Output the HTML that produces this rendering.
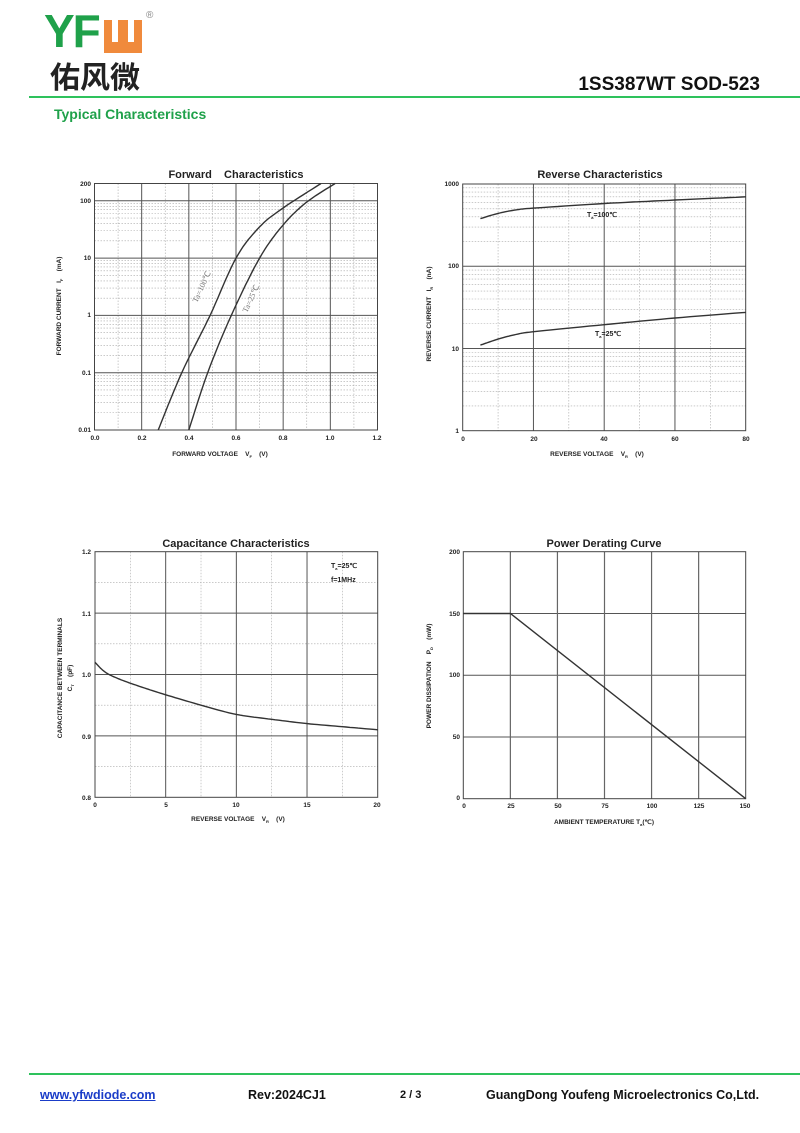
<!DOCTYPE html>
<html><head><meta charset="utf-8"><style>
html,body{margin:0;padding:0;background:#fff;width:800px;height:1133px;overflow:hidden;position:relative;font-family:"Liberation Sans",Arial,sans-serif}
.a{position:absolute;white-space:nowrap}
svg text{white-space:pre}
</style></head><body>
<div class="a" style="left:44px;top:8px;font-size:46px;font-weight:bold;color:#1fa14a;letter-spacing:-2px;line-height:46px">YF</div>
<div class="a" style="left:104px;top:20px;width:38px;height:33px;background:#f08a3c"></div>
<div class="a" style="left:112px;top:20px;width:6px;height:22px;background:#fff"></div>
<div class="a" style="left:128px;top:20px;width:6px;height:22px;background:#fff"></div>
<div class="a" style="left:146px;top:10px;font-size:10px;color:#888">®</div>
<div class="a" style="left:50px;top:58px;font-size:30px;font-weight:bold;color:#222;font-family:'Noto Sans CJK SC',sans-serif;line-height:34px">佑风微</div>
<div class="a" style="right:40px;top:74px;font-size:19px;font-weight:bold;color:#111">1SS387WT SOD-523</div>
<div class="a" style="left:29px;top:96px;width:771px;height:2px;background:#2ec25c"></div>
<div class="a" style="left:54px;top:106px;font-size:14px;font-weight:bold;color:#1fa14a">Typical Characteristics</div>
<div class="a" style="left:29px;top:1073px;width:771px;height:2px;background:#2ec25c"></div>
<div class="a" style="left:40px;top:1088px;font-size:12.5px;font-weight:bold;color:#1a3cc8;text-decoration:underline">www.yfwdiode.com</div>
<div class="a" style="left:248px;top:1088px;font-size:12.5px;font-weight:bold;color:#111">Rev:2024CJ1</div>
<div class="a" style="left:400px;top:1089px;font-size:11px;font-weight:bold;color:#111">2 / 3</div>
<div class="a" style="left:486px;top:1088px;font-size:12.5px;font-weight:bold;color:#111">GuangDong Youfeng Microelectronics Co,Ltd.</div>
<svg id="s" class="a" style="left:0;top:0" width="800" height="1133" font-family="Liberation Sans,Arial,sans-serif" font-weight="bold" fill="#222">
<g id="g"></g>
<g font-size="11" text-anchor="middle">
<text x="236" y="178">Forward    Characteristics</text>
<text x="600" y="178">Reverse Characteristics</text>
<text x="236" y="547">Capacitance Characteristics</text>
<text x="604" y="547">Power Derating Curve</text>
</g>
<g font-size="6.5" text-anchor="end">
<text x="91" y="186">200</text><text x="91" y="203">100</text><text x="91" y="260">10</text><text x="91" y="317">1</text><text x="91" y="375">0.1</text><text x="91" y="432">0.01</text>
<text x="459" y="186">1000</text><text x="459" y="268">100</text><text x="459" y="351">10</text><text x="459" y="433">1</text>
<text x="91" y="554">1.2</text><text x="91" y="616">1.1</text><text x="91" y="677">1.0</text><text x="91" y="739">0.9</text><text x="91" y="800">0.8</text>
<text x="460" y="554">200</text><text x="460" y="616">150</text><text x="460" y="677">100</text><text x="460" y="739">50</text><text x="460" y="800">0</text>
</g>
<g font-size="6.5" text-anchor="middle">
<text x="95" y="440">0.0</text><text x="142" y="440">0.2</text><text x="189" y="440">0.4</text><text x="236" y="440">0.6</text><text x="283" y="440">0.8</text><text x="330" y="440">1.0</text><text x="377" y="440">1.2</text>
<text x="463" y="441">0</text><text x="534" y="441">20</text><text x="604" y="441">40</text><text x="675" y="441">60</text><text x="746" y="441">80</text>
<text x="95" y="807">0</text><text x="166" y="807">5</text><text x="236" y="807">10</text><text x="307" y="807">15</text><text x="377" y="807">20</text>
<text x="464" y="808">0</text><text x="511" y="808">25</text><text x="558" y="808">50</text><text x="605" y="808">75</text><text x="652" y="808">100</text><text x="699" y="808">125</text><text x="745" y="808">150</text>
<text x="220" y="456">FORWARD VOLTAGE    V<tspan font-size="4" dy="2">F</tspan><tspan dy="-2">    (V)</tspan></text>
<text x="597" y="456">REVERSE VOLTAGE    V<tspan font-size="4" dy="2">R</tspan><tspan dy="-2">    (V)</tspan></text>
<text x="238" y="821">REVERSE VOLTAGE    V<tspan font-size="4" dy="2">R</tspan><tspan dy="-2">    (V)</tspan></text>
<text x="604" y="824">AMBIENT TEMPERATURE T<tspan font-size="4" dy="2">a</tspan><tspan dy="-2">(℃)</tspan></text>
<text transform="translate(61,306) rotate(-90)">FORWARD CURRENT   I<tspan font-size="4" dy="2">F</tspan><tspan dy="-2">    (mA)</tspan></text>
<text transform="translate(431,314) rotate(-90)">REVERSE CURRENT   I<tspan font-size="4" dy="2">R</tspan><tspan dy="-2">    (nA)</tspan></text>
<text transform="translate(62,678) rotate(-90)">CAPACITANCE BETWEEN TERMINALS</text>
<text transform="translate(72,678) rotate(-90)">C<tspan font-size="4" dy="2">T</tspan><tspan dy="-2">    (pF)</tspan></text>
<text transform="translate(431,676) rotate(-90)">POWER DISSIPATION    P<tspan font-size="4" dy="2">D</tspan><tspan dy="-2">    (mW)</tspan></text>
</g>
<g font-size="7" text-anchor="start">
<text x="587" y="217">T<tspan font-size="4" dy="2">a</tspan><tspan dy="-2">=100℃</tspan></text>
<text x="595" y="336">T<tspan font-size="4" dy="2">a</tspan><tspan dy="-2">=25℃</tspan></text>
<text x="331" y="568">T<tspan font-size="4" dy="2">a</tspan><tspan dy="-2">=25℃</tspan></text>
<text x="331" y="582">f=1MHz</text>
</g>
<g font-size="8" font-weight="normal" fill="#777" font-family="Liberation Serif,serif">
<text transform="translate(197,303) rotate(-65)">Ta=100℃</text>
<text transform="translate(247,313) rotate(-65)">Ta=25℃</text>
</g>
</svg>
<script>
var g=document.getElementById('g'),h='';
function L(x1,y1,x2,y2,c,w,d){h+='<line x1="'+x1+'" y1="'+y1+'" x2="'+x2+'" y2="'+y2+'" stroke="'+c+'" stroke-width="'+w+'"'+(d?' stroke-dasharray="1.5,1.5"':'')+'/>';}
function P(pts,w){h+='<polyline fill="none" stroke="#333" stroke-width="'+(w||1.4)+'" points="'+pts.map(p=>p[0].toFixed(1)+','+p[1].toFixed(1)).join(' ')+'"/>';}
function smooth(pts){var o=[];for(var i=0;i<pts.length-1;i++){var p0=pts[i-1]||pts[i],p1=pts[i],p2=pts[i+1],p3=pts[i+2]||p2;for(var t=0;t<1;t+=0.1){var t2=t*t,t3=t2*t;o.push([0,1].map(k=>0.5*((2*p1[k])+(-p0[k]+p2[k])*t+(2*p0[k]-5*p1[k]+4*p2[k]-p3[k])*t2+(-p0[k]+3*p1[k]-3*p2[k]+p3[k])*t3)));}}o.push(pts[pts.length-1]);return o;}
var fx=v=>94.5+v/1.2*283, fy=i=>430-57.3*(Math.log10(i)+2);
for(var d=-2;d<2;d++)for(var m=2;m<10;m++)L(94.5,fy(m*Math.pow(10,d)),377.5,fy(m*Math.pow(10,d)),'#aaa',0.6,1);
for(var v=0.1;v<1.2;v+=0.2)L(fx(v),183.5,fx(v),430,'#aaa',0.6,1);
[0.01,0.1,1,10,100].forEach(i=>L(94.5,fy(i),377.5,fy(i),'#555',1));
for(var v=0.2;v<1.19;v+=0.2)L(fx(v),183.5,fx(v),430,'#555',1);
h+='<rect x="94.5" y="183.5" width="283" height="246.5" fill="none" stroke="#444" stroke-width="1"/>';
P(smooth([[0.27,0.01],[0.37,0.1],[0.49,1],[0.6,10],[0.7,35],[0.8,75],[0.96,200]].map(p=>[fx(p[0]),fy(p[1])])));
P(smooth([[0.4,0.01],[0.48,0.1],[0.58,1],[0.7,10],[0.8,38],[0.9,95],[1.02,200]].map(p=>[fx(p[0]),fy(p[1])])));
var rx=v=>462.7+v/80*283, ry=i=>430.7-82.2*Math.log10(i);
for(var d=0;d<3;d++)for(var m=2;m<10;m++)L(462.7,ry(m*Math.pow(10,d)),745.7,ry(m*Math.pow(10,d)),'#aaa',0.6,1);
[10,30,50,70].forEach(v=>L(rx(v),184,rx(v),430.7,'#aaa',0.6,1));
[10,100].forEach(i=>L(462.7,ry(i),745.7,ry(i),'#555',1));
[20,40,60].forEach(v=>L(rx(v),184,rx(v),430.7,'#555',1));
h+='<rect x="462.7" y="184" width="283" height="246.7" fill="none" stroke="#444" stroke-width="1"/>';
P(smooth([[5,380],[10,440],[15,485],[20,510],[40,580],[60,640],[80,700]].map(p=>[rx(p[0]),ry(p[1])])));
P(smooth([[5,11],[10,13],[15,14.8],[20,16],[40,19.5],[60,23.5],[80,27.5]].map(p=>[rx(p[0]),ry(p[1])])));
var cx=v=>95+v/20*282.7, cy=c=>797.3-(c-0.8)/0.4*245.6;
[0.85,0.95,1.05,1.15].forEach(c=>L(95,cy(c),377.7,cy(c),'#aaa',0.6,1));
[2.5,7.5,12.5,17.5].forEach(v=>L(cx(v),551.7,cx(v),797.3,'#aaa',0.6,1));
[0.9,1.0,1.1].forEach(c=>L(95,cy(c),377.7,cy(c),'#555',1));
[5,10,15].forEach(v=>L(cx(v),551.7,cx(v),797.3,'#555',1));
h+='<rect x="95" y="551.7" width="282.7" height="245.6" fill="none" stroke="#444" stroke-width="1"/>';
P(smooth([[0,1.02],[0.5,1.008],[1,1.0],[2,0.99],[3.5,0.978],[5,0.967],[7.5,0.95],[10,0.935],[12.5,0.927],[15,0.92],[17.5,0.915],[20,0.91]].map(p=>[cx(p[0]),cy(p[1])])));
var px=t=>463.3+t/150*282.4, py=p=>798.7-p/200*247;
[50,100,150].forEach(p=>L(463.3,py(p),745.7,py(p),'#555',1));
[25,50,75,100,125].forEach(t=>L(px(t),551.7,px(t),798.7,'#666',1.2));
h+='<rect x="463.3" y="551.7" width="282.4" height="247" fill="none" stroke="#444" stroke-width="1"/>';
P([[px(0),py(150)],[px(25),py(150)],[px(150),py(0)]]);
g.innerHTML=h;
</script>
</body></html>
